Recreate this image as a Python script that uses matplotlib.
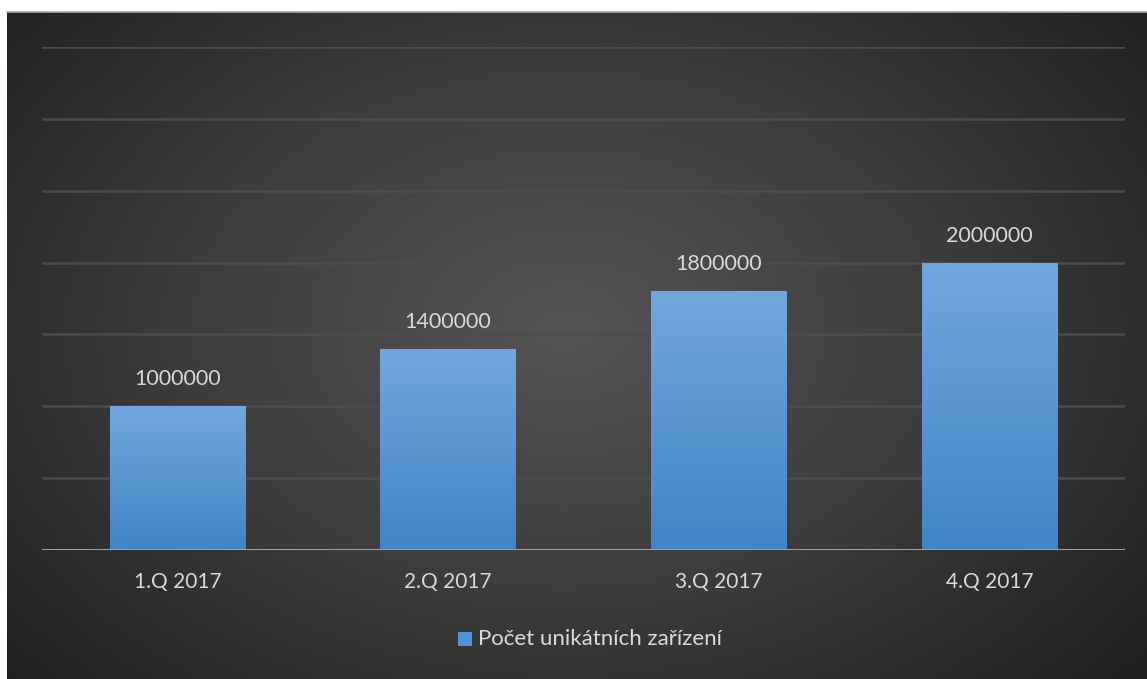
import numpy as np
import matplotlib
matplotlib.use("Agg")
import matplotlib.pyplot as plt
from matplotlib.colors import LinearSegmentedColormap
from matplotlib.patches import Rectangle

categories = ["1.Q 2017", "2.Q 2017", "3.Q 2017", "4.Q 2017"]
values = [1000000, 1400000, 1800000, 2000000]
series_name = "Počet unikátních zařízení"

W, H = 1147, 679
fig = plt.figure(figsize=(W / 100, H / 100), dpi=100, facecolor="white")
plt.rcParams["font.family"] = ["Lato", "DejaVu Sans"]

# Dark panel with a radial gradient
bg = fig.add_axes([7 / W, 0, 1 - 7 / W, (H - 12) / H])
bg.set_axis_off()
nx, ny = 400, 240
xx, yy = np.meshgrid(np.linspace(-1, 1, nx), np.linspace(-1, 1, ny))
r = np.sqrt(((xx + 0.02) / 1.05) ** 2 + ((yy - 0.05) / 1.25) ** 2)
r = np.clip(r, 0, 1.3) / 1.3
bg_cmap = LinearSegmentedColormap.from_list("bgc", ["#545454", "#3c3c3c", "#1e1e1e"])
bg.imshow(r, cmap=bg_cmap, extent=[0, 1, 0, 1], aspect="auto", origin="lower",
          vmin=0, vmax=1, interpolation="bilinear")
bg.set_xlim(0, 1)
bg.set_ylim(0, 1)
bg.plot([0, 1], [1, 1], color="#a8a8a8", lw=1.2, transform=bg.transAxes, clip_on=False)

# Main chart axes
ax = fig.add_axes([42 / W, 129 / H, (1125 - 42) / W, (550 - 47) / H])
ax.patch.set_alpha(0)
ax.set_ylim(0, 3500000)
ax.set_xlim(-0.5, len(categories) - 0.5)
for s in ax.spines.values():
    s.set_visible(False)
ax.set_yticks(np.arange(500000, 3500001, 500000))
ax.yaxis.grid(True, color="#4c4c4c", lw=1.8)
ax.set_axisbelow(True)
ax.tick_params(axis="y", left=False, labelleft=False)
ax.tick_params(axis="x", bottom=False, labelsize=15, labelcolor="#d9d9d9", pad=12)

x = np.arange(len(categories))
bars = ax.bar(x, values, width=0.5, color="none", edgecolor="none", zorder=2)
bar_cmap = LinearSegmentedColormap.from_list("barc", ["#4185c6", "#72a7dd"])
grad = np.linspace(0, 1, 256).reshape(-1, 1)
for b in bars:
    x0, w, h = b.get_x(), b.get_width(), b.get_height()
    im = ax.imshow(grad, cmap=bar_cmap, extent=[x0, x0 + w, 0, h], aspect="auto",
                   origin="lower", zorder=2)
    im.set_clip_path(b)

ax.axhline(0, color="#a0a0a0", lw=2.2, zorder=3)
ax.set_xticks(x)
ax.set_xticklabels(categories)

for xi, v in zip(x, values):
    ax.annotate(str(v), (xi, v), xytext=(0, 27), textcoords="offset pixels",
                ha="center", va="center", fontsize=15.5, color="#d9d9d9")

# Legend
fig.patches.append(Rectangle((458 / W, (H - 646) / H), 14 / W, 14 / H,
                             transform=fig.transFigure, facecolor="#4f93d8",
                             edgecolor="none"))
fig.text(478 / W, (H - 639) / H, series_name, ha="left", va="center",
         fontsize=16, color="#d9d9d9")

fig.savefig("out.png", dpi=100, facecolor="white")
